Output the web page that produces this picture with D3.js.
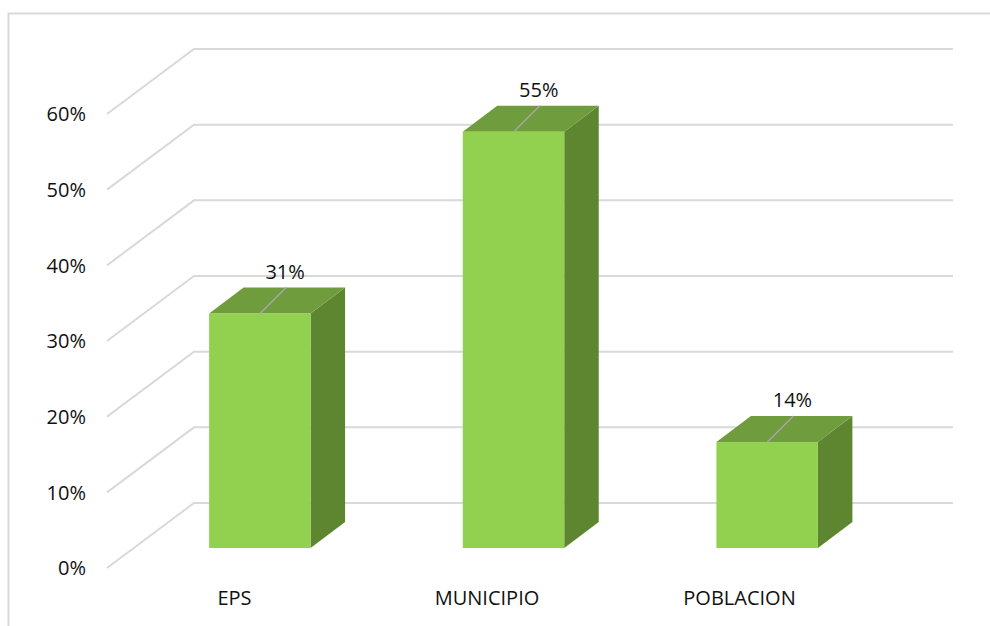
<!DOCTYPE html>
<html><head><meta charset="utf-8">
<style>html,body{margin:0;padding:0;background:#fff}svg{display:block}text{font-family:"Open Sans",sans-serif;fill:#111}</style>
<script src="https://cdn.jsdelivr.net/npm/d3@7"></script></head><body>
<script>
const categories = ["EPS","MUNICIPIO","POBLACION"];
const values = [0.31,0.55,0.14];
const yTicks = [0,0.1,0.2,0.3,0.4,0.5,0.6];

const W=990,H=626;
const svg=d3.select("body").append("svg").attr("width",W).attr("height",H);
// frame
svg.append("path").attr("d","M8.5,626V13.5H990").attr("fill","none").attr("stroke","#d9d9d9").attr("stroke-width",2);

const y=d3.scaleLinear().domain([0,0.6]).range([568,114]);   // front wall
const wallDX=87, wallDY=-65;
const x=d3.scaleBand().domain(categories).range([133,894]).paddingInner(0.6).paddingOuter(0.3);
const barFloorLift=20, dx=34.5, dy=-26;

const grid=svg.append("g").attr("fill","none").attr("stroke","#d9d9d9").attr("stroke-width",2);
grid.selectAll("path").data(yTicks).join("path")
  .attr("d",t=>`M107,${y(t)}L${107+wallDX},${y(t)+wallDY}H953`);

svg.append("g").selectAll("text").data(yTicks).join("text")
  .attr("x",86).attr("y",t=>y(t)).attr("dy","0.36em").attr("text-anchor","end")
  .attr("font-size",20).text(d3.format(".0%"));

const bars=svg.append("g").selectAll("g").data(categories.map((c,i)=>({c,v:values[i]}))).join("g");
const L=d=>x(d.c), R=d=>x(d.c)+x.bandwidth(), B=()=>y(0)-barFloorLift, T=d=>y(d.v)-barFloorLift;
bars.append("path").attr("fill","#5e8630")
  .attr("d",d=>`M${R(d)},${T(d)}l${dx},${dy}V${B()+dy}L${R(d)},${B()}Z`);
bars.append("path").attr("fill","#6f9c3c")
  .attr("d",d=>`M${L(d)},${T(d)}l${dx},${dy}H${R(d)+dx}L${R(d)},${T(d)}Z`);
bars.append("rect").attr("fill","#92d050")
  .attr("x",L).attr("y",T).attr("width",x.bandwidth()).attr("height",d=>B()-T(d));
bars.append("line").attr("stroke","#a6a6a6").attr("stroke-width",1.5)
  .attr("x1",d=>L(d)+51).attr("y1",T).attr("x2",d=>L(d)+77).attr("y2",d=>T(d)-26);
bars.append("text").attr("x",d=>L(d)+76).attr("y",d=>T(d)-42).attr("dy","0.36em")
  .attr("text-anchor","middle").attr("font-size",20).text(d=>d3.format(".0%")(d.v));

svg.append("g").selectAll("text").data(categories).join("text")
  .attr("x",(c,i)=>[234.5,487,739.5][i]).attr("y",598).attr("dy","0.36em").attr("text-anchor","middle")
  .attr("font-size",20).text(c=>c);
</script></body></html>
